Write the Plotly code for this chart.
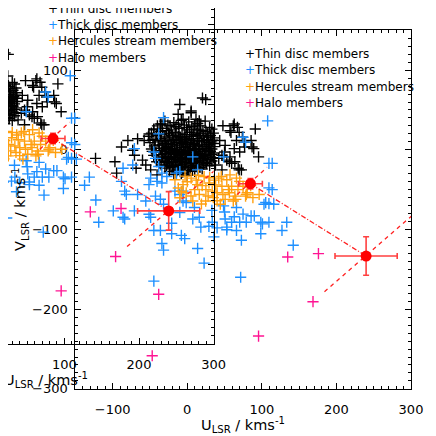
import plotly.graph_objects as go

W = H = 436
FONT = "DejaVu Sans"

# ---- data: (U_LSR, V_LSR) in km/s ----
thin_sparse = [
    (47.8, 30.2), (63.0, 32.3), (67.3, 28.1), (91.2, 26.1), (58.6, 21.9), (69.6, 21.9),
    (73.9, 15.8), (43.5, 11.7), (76.1, 9.6), (63.0, 1.5), (86.9, 3.5), (50.0, -2.7),
    (89.1, 1.5), (95.6, -8.9), (56.5, -15.0), (69.6, -25.2), (61.7, 30.2), (57.3, 24.0),
    (66.0, 11.7), (85.6, 11.7), (50.8, 5.6), (76.9, 3.5), (70.3, -2.7), (57.3, -8.9),
    (46.5, -6.8), (63.8, -15.0), (42.2, -10.8), (53.0, -12.9), (59.5, -17.0), (68.3, -23.1),
    (46.5, -25.2), (37.8, -19.1), (72.6, -25.2), (24.7, 63.1), (11.7, 38.4), (-12.2, 44.6),
    (20.4, 65.0), (-10.0, 56.9), (5.2, 48.7), (-34.0, 32.3), (-44.8, 26.1), (-79.6, 11.7),
    (-88.2, 3.5), (-66.6, 13.8), (-57.8, 11.7), (-73.1, -0.6), (-70.8, -6.8), (-97.0, -15.0),
    (-123.0, -10.8), (-68.6, -23.1), (-94.7, -29.3), (-55.6, -19.1), (-49.1, -25.2),
    (-40.5, -31.4), (-51.3, 19.9), (-60.0, -12.9), (16.1, 36.3), (-5.7, 38.4), (-23.0, 30.2),
    (-36.1, 32.3), (5.2, 46.6),
]
thin_core = [
    (-30, 36), (-18, 34), (-8, 37), (2, 35), (14, 33), (24, 36),
    (-40, 30), (-26, 31), (-15, 29), (-4, 31), (6, 29), (18, 30), (30, 28),
    (-45, 25), (-33, 27), (-21, 25), (-11, 27), (0, 25), (9, 26), (21, 24), (33, 26),
    (-48, 21), (-36, 23), (-25, 21), (-16, 22), (-7, 20), (3, 22), (12, 21), (25, 23), (35, 21),
    (-52, 17), (-41, 18), (-30, 16), (-20, 18), (-12, 17), (-3, 19), (5, 17), (14, 18), (22, 16),
    (31, 18), (36, 15),
    (-46, 13), (-35, 14), (-27, 12), (-18, 13), (-9, 15), (-1, 13), (8, 12), (16, 14), (26, 13),
    (34, 12),
    (-50, 9), (-39, 10), (-29, 8), (-22, 10), (-14, 9), (-6, 11), (1, 9), (10, 8), (19, 10),
    (28, 9), (36, 8),
    (-44, 5), (-33, 6), (-25, 4), (-17, 6), (-10, 5), (-2, 7), (4, 5), (12, 6), (21, 4), (30, 6),
    (37, 4),
    (-48, 1), (-37, 2), (-28, 0), (-20, 2), (-13, 1), (-5, 3), (3, 1), (9, 2), (17, 0), (25, 2),
    (33, 1),
    (-42, -3), (-31, -2), (-23, -4), (-15, -2), (-8, -3), (0, -1), (7, -3), (15, -2), (23, -4),
    (31, -2), (36, -4),
    (-45, -7), (-35, -6), (-26, -8), (-18, -6), (-11, -7), (-3, -5), (5, -7), (13, -6), (20, -8),
    (29, -6),
    (-38, -11), (-29, -10), (-21, -12), (-13, -10), (-6, -11), (2, -9), (10, -11), (18, -10),
    (27, -12), (35, -10),
    (-41, -15), (-31, -14), (-24, -16), (-16, -14), (-8, -15), (-1, -13), (8, -15), (16, -14),
    (24, -16), (33, -14),
    (-35, -19), (-26, -18), (-18, -20), (-10, -18), (-2, -19), (6, -17), (14, -19), (22, -18),
    (30, -20),
    (-30, -23), (-20, -22), (-12, -24), (-4, -22), (4, -23), (12, -21), (20, -24),
    (-24, -27), (-14, -26), (-6, -28), (2, -26), (10, -27),
    (-18, -31), (-8, -30), (0, -32),
    (-36, 19), (-24, 20), (-15, 15), (-4, 16), (8, 19), (18, 21), (28, 16),
    (-31, 11), (-19, 12), (-10, 13), (-2, 10), (6, 14), (14, 11), (23, 12), (32, 10),
    (-38, 6), (-28, 3), (-21, 7), (-8, 8), (0, 4), (8, 7), (16, 5), (26, 7),
    (-34, -1), (-25, 1), (-17, -1), (-10, 0), (-3, -2), (4, -1), (11, 0), (20, 1), (28, -1),
    (-29, -5), (-22, -3), (-14, -5), (-6, -6), (2, -4), (9, -6), (17, -5), (25, -7),
    (-33, -9), (-25, -11), (-17, -9), (-9, -12), (-1, -10), (6, -12), (14, -9), (22, -11),
    (31, -9),
    (-27, -15), (-19, -16), (-11, -14), (-3, -16), (4, -14), (12, -16), (20, -13),
    (-22, -21), (-14, -19), (-6, -21), (1, -22), (9, -20), (17, -22),
    (-12, 32), (-1, 28), (10, 31), (-28, 24), (16, 25), (-43, 12), (-47, -2), (-37, -16),
    (27, 20), (29, 2), (33, -6), (26, -17), (-28, -20), (7, -25), (-15, -29),
]
thick_pts = [
    (-31.8, 40.4), (-38.3, 20.0), (-44.8, -2.7), (-70.9, 1.5), (-73.1, -19.1), (-86.1, -23.1),
    (-88.2, -39.6), (-83.9, -51.9), (-81.7, -56.0), (-66.6, -56.0), (-34.0, -29.3),
    (-34.0, -41.6), (-51.3, -43.7), (-42.6, -58.1), (-55.6, -64.3), (-10.0, -56.0),
    (-99.2, -76.6), (-86.1, -84.7), (-83.9, -86.8), (-118.7, -90.9), (-70.9, -76.6),
    (-51.3, -80.8), (-49.1, -84.7), (-36.0, -62.0), (-44.8, -101.2), (-36.0, -101.2),
    (-20.9, -92.1), (-20.9, -105.3), (-7.9, -107.4), (-3.4, -111.4), (-34.0, -117.6),
    (-31.8, -125.9), (-10.0, -78.6), (7.4, -86.8), (16.1, -84.7), (18.2, -97.0), (9.6, -72.4),
    (13.9, -123.8), (22.6, -142.2), (33.5, -90.9), (35.7, -109.3), (-44.8, -164.8),
    (7.4, -8.9), (-42.6, -10.8), (-38.3, -21.0), (-49.1, -35.5), (-40.5, -39.6), (-14.4, -29.3),
    (-27.4, -33.5), (-31.8, -68.3), (-5.7, -51.9), (-1.4, -66.2),
    (48.7, -8.9), (74.8, 15.8), (-10.0, -27.3), (13.9, -25.2), (-16.5, -51.9), (-5.7, -64.3),
    (105.2, -66.2), (107.8, 36.3), (78.2, 9.6), (109.5, -17.0), (113.9, -17.0), (109.5, -47.8),
    (113.9, -49.9), (102.9, -68.3), (109.5, -67.5), (116.0, -68.3), (48.7, -70.4), (66.0, -72.4),
    (74.8, -80.7), (85.6, -82.8), (89.9, -82.8), (50.8, -86.8), (59.5, -90.9), (70.3, -90.9),
    (79.1, -90.9), (98.6, -90.9), (100.8, -93.0), (109.5, -90.9), (133.4, -90.9), (53.0, -97.0),
    (53.0, -100.4), (66.0, -101.2), (98.6, -105.3), (127.0, -101.2), (72.6, -113.5),
    (142.1, -119.7), (71.6, -159.9), (33.0, -76.0), (50.0, -78.0), (63.0, -84.0), (29.0, -96.0),
    (40.0, -98.0),
]
herc_pts = [
    (42.2, -35.5), (53.0, -37.6), (66.0, -35.5), (70.3, -39.6), (46.5, -45.8), (59.5, -45.8),
    (74.8, -45.8), (40.0, -53.9), (55.2, -49.9), (63.8, -58.1), (79.1, -56.0), (96.4, -56.0),
    (50.8, -62.2), (61.7, -64.3), (44.3, -68.3), (45.6, -33.5), (47.8, -56.0), (56.5, -53.9),
    (80.4, -53.9), (65.1, -62.2), (78.2, -58.1), (-16.5, -37.6), (-5.7, -43.7), (5.2, -35.5),
    (13.9, -43.7), (22.6, -33.5), (29.1, -41.6), (-1.4, -53.9), (16.1, -56.0), (33.5, -51.9),
    (-10.0, -60.1), (7.4, -64.3), (24.7, -64.3), (57.3, -31.4), (35.0, -60.0), (-12.0, -48.0),
    (0.0, -40.0), (10.0, -50.0), (20.0, -45.0), (28.0, -58.0), (38.0, -44.0), (-3.0, -33.0),
    (15.0, -32.0), (30.0, -35.0), (5.0, -58.0), (19.0, -68.0), (-8.0, -52.0), (36.0, -38.0),
    (12.0, -38.0), (25.0, -50.0), (68.0, -50.0), (85.0, -45.0), (88.0, -60.0), (40.0, -64.0),
]
halo_pts = [
    (134.7, -134.5), (175.9, -130.3), (168.6, -190.6), (95.6, -233.7), (-38.3, -181.3),
    (-47.0, -258.4),
]
# group mean velocities with errors
mean_u = [84.7, 239.8]
mean_v = [-42.5, -133.3]
mean_u_err = [16.0, 41.7]
mean_v_err = [6.5, 24.2]
# short dashed direction segments through each mean
dash1_u = [67, 107]
dash1_v = [-56, -22]
dash2_u = [184, 312]
dash2_v = [-178, -74]

legend_names = ["Thin disc members", "Thick disc members",
                "Hercules stream members", "Halo members"]
colors = ["#000000", "#1e90ff", "#ffa010", "#ff1493"]

thin_u, thin_v = zip(*(thin_sparse + thin_core))
thick_u, thick_v = zip(*thick_pts)
herc_u, herc_v = zip(*herc_pts)
halo_u, halo_v = zip(*halo_pts)
groups = [(thin_u, thin_v), (thick_u, thick_v), (herc_u, herc_v), (halo_u, halo_v)]

fig = go.Figure()

# the chart appears twice: panel "b" (full box) and a shifted copy "a"
for xa, ya in [("x", "y"), ("x2", "y2")]:
    for (u, v), c in zip(groups, colors):
        fig.add_trace(go.Scatter(x=u, y=v, mode="markers", xaxis=xa, yaxis=ya,
                                 marker=dict(symbol="cross-thin", size=8,
                                             line=dict(color=c, width=1.4))))
    fig.add_trace(go.Scatter(x=mean_u, y=mean_v, mode="lines", xaxis=xa, yaxis=ya,
                             line=dict(color="#ff2020", width=1.3, dash="5px,2px,1px,2px")))
    for du, dv in [(dash1_u, dash1_v), (dash2_u, dash2_v)]:
        fig.add_trace(go.Scatter(x=du, y=dv, mode="lines", xaxis=xa, yaxis=ya,
                                 line=dict(color="#ff2020", width=1.3, dash="4px,4px")))
    fig.add_trace(go.Scatter(
        x=mean_u, y=mean_v, mode="markers", xaxis=xa, yaxis=ya,
        marker=dict(color="#ff0000", size=11),
        error_x=dict(type="data", array=mean_u_err, color="#ff4040", thickness=1.6, width=3),
        error_y=dict(type="data", array=mean_v_err, color="#ff4040", thickness=1.6, width=3)))

tickfont = dict(family=FONT, size=13, color="black")
axis_style = dict(showline=True, linecolor="black", linewidth=1, ticks="inside",
                  ticklen=6, tickwidth=1, tickcolor="black", showgrid=False,
                  zeroline=False, tickfont=tickfont,
                  minor=dict(ticks="inside", ticklen=3, dtick=10, tickcolor="black",
                             tickwidth=1, showgrid=False))

# panel b box in pixels, and the offset of the copy
bx0, bx1, by0, by1 = 69.3, 414.4, 22.7, 388.0
dx, dy = 203, 46

fig.update_layout(
    width=W, height=H, autosize=False, showlegend=False,
    margin=dict(l=0, r=0, t=0, b=0),
    paper_bgcolor="white", plot_bgcolor="rgba(0,0,0,0)",
    xaxis=dict(axis_style, domain=[bx0 / W, bx1 / W], range=[-150, 300],
               tickvals=[-100, 0, 100, 200, 300], mirror="ticks", anchor="y",
               ticklabelstandoff=9),
    yaxis=dict(axis_style, domain=[1 - by1 / H, 1 - by0 / H], range=[-300, 150],
               tickvals=[-300, -200, -100, 0, 100], mirror="ticks", anchor="x",
               ticklabelstandoff=4),
    xaxis2=dict(axis_style, domain=[0, (bx1 - dx) / W], range=[24.3, 300],
                tickvals=[100, 200, 300], anchor="y2", ticklabelstandoff=9),
    yaxis2=dict(axis_style, domain=[1 - (by1 - dy) / H, 1], range=[-300, 121.3],
                tickvals=[-200, -100, 0, 100], anchor="x2", side="right",
                showticklabels=False),
)

# legends (drawn as text) and x titles for both copies
rows = [46.7, 63.3, 80.0, 96.7]
for ox, oy in [(0, 0), (-dx, -dy)]:
    for name, c, ry in zip(legend_names, colors, rows):
        fig.add_annotation(xref="paper", yref="paper", x=(242 + ox) / W, y=1 - (ry + oy) / H,
                           xanchor="left", yanchor="middle", showarrow=False,
                           text=f'<span style="color:{c}">+</span>{name}',
                           font=dict(family=FONT, size=12, color="black"))
    fig.add_annotation(xref="paper", yref="paper", x=(242 + ox) / W, y=1 - (425 + oy) / H,
                       xanchor="center", yanchor="middle", showarrow=False,
                       text="U<sub>LSR</sub> / kms<sup>-1</sup>",
                       font=dict(family=FONT, size=14.5, color="black"))

fig.add_annotation(xref="paper", yref="paper", x=13 / W, y=1 - 205 / H,
                   xanchor="center", yanchor="middle", showarrow=False, textangle=-90,
                   text="V<sub>LSR</sub> / kms<sup>-1</sup>",
                   font=dict(family=FONT, size=14.5, color="black"))

fig.write_html("out.html")
